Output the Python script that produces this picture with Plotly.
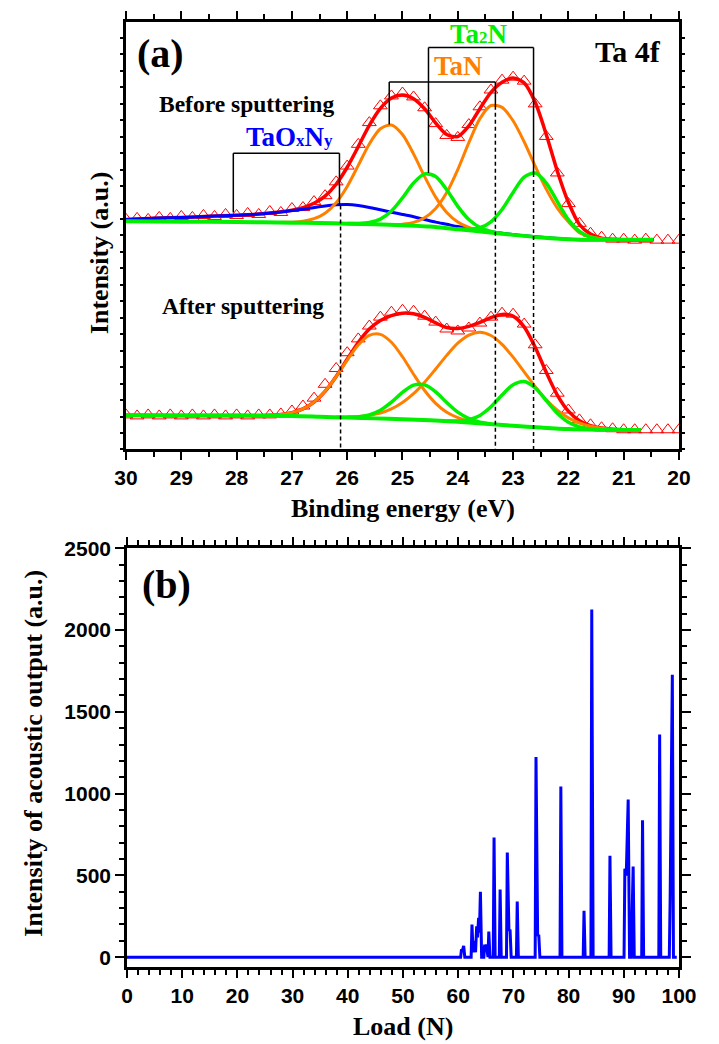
import plotly.graph_objects as go

# ---------------- Panel (a): Ta 4f XPS ----------------
# measured data points (open triangles)
E_pts = [30.0, 29.8, 29.6, 29.4, 29.2, 29.0, 28.8, 28.6, 28.4, 28.2, 28.0, 27.8, 27.6, 27.4, 27.2,
         27.0, 26.8, 26.6, 26.4, 26.2, 26.0, 25.8, 25.6, 25.4, 25.2, 25.0, 24.8, 24.6, 24.4, 24.2,
         24.0, 23.8, 23.6, 23.4, 23.2, 23.0, 22.8, 22.6, 22.4, 22.2, 22.0, 21.8, 21.6, 21.4, 21.2,
         21.0, 20.8, 20.6, 20.4, 20.2, 20.0]
I_before_pts = [233, 234, 233, 235, 234, 236, 235, 237, 236, 238, 237, 239, 238, 241, 240,
                244, 245, 251, 257, 271, 287, 309, 331, 348, 358, 361, 357, 346, 330, 318,
                316, 329, 347, 364, 374, 377, 373, 350, 317, 280, 249, 229, 219, 215, 213,
                213, 212, 213, 212, 212, 212]
I_after_pts = [35, 34, 35, 34, 35, 34, 35, 34, 35, 34, 35, 34, 35, 35, 36,
               39, 44, 52, 66, 82, 98, 112, 125, 134, 139, 141, 140, 135, 129, 122,
               120, 123, 128, 134, 138, 137, 127, 106, 80, 57, 40, 30, 25, 22, 21,
               20, 20, 20, 20, 20, 20]

# --- before sputtering fit ---
E_bg_b = [30, 29, 28, 27, 26.5, 26, 25.5, 25, 24.5, 24, 23.5, 23, 22.5, 22, 21.5, 21, 20.46]
I_bg_b = [231, 230.7, 230.3, 229.7, 229.3, 228.7, 228, 227, 225.7, 223, 220.3, 217.3, 214.7, 213, 212.3, 212.3, 212.3]

E_env_b = [30, 29.5, 29, 28.5, 28, 27.6, 27.4, 27.2, 27.0, 26.8, 26.6, 26.4, 26.2, 26.0, 25.8, 25.6,
           25.4, 25.2, 25.0, 24.8, 24.6, 24.4, 24.2, 24.0, 23.8, 23.6, 23.4, 23.2, 23.0, 22.8, 22.6,
           22.4, 22.2, 22.0, 21.8, 21.6, 21.4, 21.2, 21.0, 20.46]
I_env_b = [233.0, 234.1, 235.0, 236.1, 237.3, 238.4, 239.5, 240.7, 242.2, 244.9, 249.3, 256.6, 268.6,
           285.8, 306.7, 328.1, 345.3, 355.9, 358.9, 355.2, 345.0, 330.6, 318.9, 316.9, 327.6, 345.1,
           361.6, 371.8, 376.2, 371.2, 351.6, 319.0, 281.8, 250.3, 227.8, 218.1, 214.0, 212.8, 212.3, 212.3]

E_taoxny_b = [30, 29.5, 29, 28.5, 28, 27.6, 27.2, 26.8, 26.4, 26.2, 26.0, 25.8, 25.6, 25.4, 25.2, 25.0,
              24.8, 24.6, 24.4, 24.2, 24.0, 23.6, 23.2, 22.8, 22.0, 21.5, 21.0, 20.46]
I_taoxny_b = [233.0, 234.1, 235.0, 236.1, 237.3, 238.4, 240.5, 243.3, 246.5, 247.7, 248.0, 247.0, 245.1,
              242.7, 240.3, 238.0, 235.6, 232.9, 230.2, 228.0, 225.7, 222.1, 219.0, 216.4, 213.0, 212.3,
              212.3, 212.3]

E_tan1_b = [27.2, 27.0, 26.8, 26.6, 26.4, 26.2, 26.0, 25.8, 25.6, 25.4, 25.2, 25.0, 24.8, 24.6, 24.4,
            24.2, 24.0, 23.8, 23.6, 23.4]
I_tan1_b = [230.0, 230.2, 231.1, 233.7, 239.3, 249.9, 266.4, 287.7, 309.4, 324.8, 328.6, 318.9, 299.3,
            276.3, 255.5, 240.0, 230.3, 224.8, 221.8, 220.0]
E_tan2_b = [25.2, 25.0, 24.8, 24.6, 24.4, 24.2, 24.0, 23.8, 23.6, 23.4, 23.2, 23.0, 22.8, 22.6, 22.4,
            22.2, 22.0, 21.8, 21.6, 21.4, 21.2]
I_tan2_b = [227.8, 228.2, 230.0, 234.7, 244.1, 260.2, 283.5, 310.7, 335.0, 348.3, 346.4, 332.9, 311.6,
            286.9, 263.6, 244.5, 230.6, 219.6, 215.4, 213.3, 212.6]
E_ta2n1_b = [26.0, 25.8, 25.6, 25.4, 25.2, 25.0, 24.8, 24.6, 24.4, 24.2, 24.0, 23.8, 23.6, 23.4, 23.2]
I_ta2n1_b = [228.8, 228.8, 229.8, 233.2, 241.4, 254.8, 269.8, 279.1, 276.4, 263.0, 246.2, 232.8, 224.8,
             220.9, 218.8]
E_ta2n2_b = [24.0, 23.8, 23.6, 23.4, 23.2, 23.0, 22.8, 22.6, 22.4, 22.2, 22.0, 21.8, 21.6, 21.4, 21.2]
I_ta2n2_b = [223.2, 223.0, 224.6, 230.6, 243.0, 260.3, 275.8, 279.9, 269.8, 251.0, 232.7, 220.8, 215.1,
             213.0, 212.5]

# --- after sputtering fit ---
E_bg_a = [30, 29, 28, 27, 26.5, 26, 25.5, 25, 24.5, 24, 23.5, 23, 22.5, 22, 21.5, 21, 20.69]
I_bg_a = [34.7, 34.5, 34.3, 34.0, 33.2, 32.3, 31.5, 30.7, 29.5, 28.0, 26.0, 24.0, 22.2, 20.7, 20.0, 19.7, 19.7]

E_env_a = [30, 29, 28, 27.6, 27.4, 27.2, 27.0, 26.8, 26.6, 26.4, 26.2, 26.0, 25.8, 25.6, 25.4, 25.2,
           25.0, 24.8, 24.6, 24.4, 24.2, 24.0, 23.8, 23.6, 23.4, 23.2, 23.0, 22.8, 22.6, 22.4, 22.2,
           22.0, 21.8, 21.6, 21.4, 21.2, 21.0, 20.69]
I_env_a = [34.7, 34.5, 34.3, 34.4, 34.6, 35.4, 37.3, 41.1, 48.0, 58.9, 74.0, 91.5, 108.4, 121.9, 130.6,
           135.6, 138.0, 137.4, 133.8, 128.2, 123.5, 122.6, 124.7, 128.8, 133.5, 136.8, 135.1, 124.2,
           103.5, 78.1, 55.1, 38.8, 29.2, 24.2, 21.8, 20.6, 20.1, 19.8]

E_tan1_a = [27.6, 27.4, 27.2, 27.0, 26.8, 26.6, 26.4, 26.2, 26.0, 25.8, 25.6, 25.4, 25.2, 25.0, 24.8,
            24.6, 24.4, 24.2, 24.0, 23.8, 23.6, 23.4]
I_tan1_a = [34.4, 34.6, 35.4, 37.3, 41.1, 48.0, 58.9, 73.7, 90.5, 105.9, 115.6, 116.6, 108.6, 93.9, 76.2,
            59.7, 46.7, 37.7, 32.3, 29.0, 27.1, 25.8]
E_tan2_a = [26.2, 26.0, 25.8, 25.6, 25.4, 25.2, 25.0, 24.8, 24.6, 24.4, 24.2, 24.0, 23.8, 23.6, 23.4,
            23.2, 23.0, 22.8, 22.6, 22.4, 22.2, 22.0, 21.8, 21.6, 21.4, 21.2, 21.0]
I_tan2_a = [33.0, 33.0, 33.5, 34.7, 36.9, 41.1, 47.6, 56.5, 68.1, 81.5, 95.3, 107.6, 115.8, 118.7, 115.4,
            106.5, 93.5, 78.6, 63.7, 50.4, 39.8, 32.0, 26.8, 23.5, 21.6, 20.6, 20.1]
E_ta2n1_a = [26.0, 25.8, 25.6, 25.4, 25.2, 25.0, 24.8, 24.6, 24.4, 24.2, 24.0, 23.8, 23.6, 23.4]
I_ta2n1_a = [32.6, 33.0, 35.0, 39.7, 47.9, 57.9, 65.1, 65.4, 58.4, 47.5, 37.8, 31.3, 27.7, 25.9]
E_ta2n2_a = [24.2, 24.0, 23.8, 23.6, 23.4, 23.2, 23.0, 22.8, 22.6, 22.4, 22.2, 22.0, 21.8, 21.6, 21.4]
I_ta2n2_a = [28.8, 28.9, 30.2, 34.5, 43.2, 55.1, 65.6, 68.9, 62.4, 49.6, 36.6, 27.5, 22.8, 20.8, 20.1]

# peak assignment brackets
brk_taoxny = dict(E=[28.06, 26.14], level=300, feet=[240, 247])
brk_tan = dict(E=[25.24, 23.32], level=372, feet=[329, 348])
brk_ta2n = dict(E=[24.53, 22.63], level=407, feet=[280, 280])
dashed_E = [26.12, 23.32, 22.63]
dashed_top = [247, 348, 280]

# ---------------- Panel (b): acoustic emission ----------------
load_N = [0, 60.45, 60.6, 60.75, 61.0, 61.2,
          62.35, 62.5, 62.7, 62.95, 63.15, 63.35, 63.5, 63.7, 63.85, 64.03, 64.25,
          64.65, 64.8, 64.95, 65.1, 65.3, 65.4, 65.55, 65.75,
          66.35, 66.5, 66.7,
          67.45, 67.6, 67.8,
          68.75, 68.9, 69.2, 69.4, 69.6,
          70.55, 70.7, 70.9,
          73.95, 74.1, 74.4, 74.6, 74.8,
          78.45, 78.6, 78.8,
          82.65, 82.8, 83.0,
          84.05, 84.2, 84.45,
          87.35, 87.5, 87.7,
          90.05, 90.2, 90.45, 90.8, 91.05, 91.35, 91.7, 91.9,
          93.25, 93.4, 93.6,
          96.35, 96.5, 96.7,
          98.25, 98.4, 98.8, 99.0, 99.6]
ae_intensity = [0, 0, 48, 40, 68, 0,
                0, 199, 30, 99, 30, 189, 120, 240, 150, 400, 0,
                0, 77, 40, 77, 0, 0, 157, 0,
                0, 731, 0,
                0, 413, 0,
                0, 640, 160, 169, 0,
                0, 340, 0,
                0, 1224, 130, 137, 0,
                0, 1043, 0,
                0, 284, 0,
                0, 2126, 0,
                0, 620, 0,
                0, 541, 500, 964, 0, 0, 554, 0,
                0, 837, 0,
                0, 1361, 0,
                0, 354, 1727, 0, 0]

RED, ORANGE, GREEN, BLUE = "#ff0000", "#ff8000", "#00f000", "#0000ff"
SERIF = "Liberation Serif"
SANS = "Liberation Sans"

W, H = 719, 1044
def px(x):
    return x / W
def py(y):
    return 1 - y / H

fig = go.Figure()

def add_line(x, y, color, width, xa="x", ya="y", shape="spline"):
    fig.add_trace(go.Scatter(x=x, y=y, mode="lines", xaxis=xa, yaxis=ya,
                             line=dict(color=color, width=width, shape=shape, smoothing=0.8),
                             hoverinfo="skip", showlegend=False))

for pts in (I_before_pts, I_after_pts):
    fig.add_trace(go.Scatter(x=E_pts, y=pts, mode="markers", xaxis="x", yaxis="y",
                             marker=dict(symbol="triangle-up-open", size=12, color=RED,
                                         line=dict(width=1, color=RED)),
                             showlegend=False, hoverinfo="skip"))

add_line(E_env_b, I_env_b, RED, 3.5)
add_line(E_env_a, I_env_a, RED, 3.5)
add_line(E_taoxny_b, I_taoxny_b, BLUE, 3)
for ex, iy in ((E_tan1_b, I_tan1_b), (E_tan2_b, I_tan2_b), (E_tan1_a, I_tan1_a), (E_tan2_a, I_tan2_a)):
    add_line(ex, iy, ORANGE, 3)
for ex, iy in ((E_ta2n1_b, I_ta2n1_b), (E_ta2n2_b, I_ta2n2_b), (E_ta2n1_a, I_ta2n1_a), (E_ta2n2_a, I_ta2n2_a)):
    add_line(ex, iy, GREEN, 3.5)
add_line(E_bg_b, I_bg_b, GREEN, 4)
add_line(E_bg_a, I_bg_a, GREEN, 4)

# panel (b)
add_line(load_N, ae_intensity, BLUE, 3, xa="x2", ya="y2", shape="linear")

shapes = []
for b in (brk_taoxny, brk_tan, brk_ta2n):
    e0, e1 = b["E"]
    shapes.append(dict(type="line", xref="x", yref="y", x0=e0, x1=e1, y0=b["level"], y1=b["level"],
                       line=dict(color="black", width=1.5)))
    for e, f in zip(b["E"], b["feet"]):
        shapes.append(dict(type="line", xref="x", yref="y", x0=e, x1=e, y0=b["level"], y1=f,
                           line=dict(color="black", width=1.5)))
for e, t in zip(dashed_E, dashed_top):
    shapes.append(dict(type="line", xref="x", yref="y", x0=e, x1=e, y0=t, y1=0,
                       line=dict(color="black", width=1.5, dash="4px,3px")))

def txt(x, y, s, size, color="black", xref="x", yref="y", angle=0, family=SERIF):
    return dict(x=x, y=y, xref=xref, yref=yref, text=s, showarrow=False, textangle=angle,
                xanchor="center", yanchor="middle",
                font=dict(family=family, size=size, color=color, weight="bold"))

ann = [
    txt(29.38, 401, "(a)", 40),
    txt(20.93, 403, "Ta 4f", 30),
    txt(27.83, 350, "Before sputtering", 23.5),
    txt(27.89, 145, "After sputtering", 23.5),
    txt(27.05, 316, 'TaO<span style="font-size:17px">x</span>N<span style="font-size:17px">y</span>', 27, BLUE),
    txt(23.99, 388, "TaN", 27, ORANGE),
    txt(23.61, 421, 'Ta<span style="font-size:17px">2</span>N', 27, GREEN),
    txt(7.2, 2280, "(b)", 40, xref="x2", yref="y2"),
    txt(px(408), py(503), "Binding energy (eV)", 26, xref="paper", yref="paper"),
    txt(px(92), py(244), "Intensity (a.u.)", 26, xref="paper", yref="paper", angle=-90),
    txt(px(408), py(1027), "Load (N)", 26, xref="paper", yref="paper"),
    txt(px(23), py(751), "Intensity of acoustic output (a.u.)", 26, xref="paper", yref="paper", angle=-90),
]

axis_common = dict(showline=True, linecolor="black", linewidth=2.5, mirror="ticks", ticks="outside",
                   tickcolor="black", tickwidth=2, showgrid=False, zeroline=False,
                   tickfont=dict(family=SANS, size=21, color="black", weight="bold"))

fig.update_layout(
    width=W, height=H, margin=dict(l=0, r=0, t=0, b=0),
    paper_bgcolor="white", plot_bgcolor="white", showlegend=False,
    xaxis=dict(domain=[px(119), px(696)], range=[30, 20], dtick=1, ticklen=8, anchor="y",
               minor=dict(dtick=0.5, ticklen=5, tickwidth=2, tickcolor="black", ticks="outside"),
               **axis_common),
    yaxis=dict(domain=[py(443), py(10)], range=[0, 433], anchor="x", showticklabels=False,
               tick0=0, dtick=16.67, ticklen=3, **axis_common),
    xaxis2=dict(domain=[px(120), px(696)], range=[0, 100], dtick=10, ticklen=8, anchor="y2",
                minor=dict(dtick=2, ticklen=5, tickwidth=2, tickcolor="black", ticks="outside"),
                **axis_common),
    yaxis2=dict(domain=[py(967), py(543)], range=[-60, 2500], dtick=500, ticklen=9, anchor="x2",
                minor=dict(dtick=100, ticklen=5, tickwidth=2, tickcolor="black", ticks="outside"),
                **axis_common),
    shapes=shapes, annotations=ann,
)

# remove the default page margin so the figure sits at the window's top-left corner
fig.write_html("out.html",
               config={"displayModeBar": False},
               post_script="document.body.style.margin='0';document.body.style.overflow='hidden';")
